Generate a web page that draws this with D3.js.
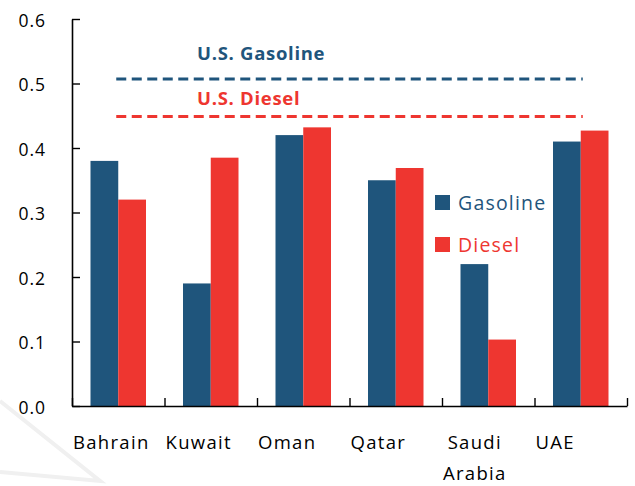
<!DOCTYPE html>
<html>
<head>
<meta charset="utf-8">
<script src="https://cdn.jsdelivr.net/npm/d3@7"></script>
<style>
  body { margin: 0; background: #fff; }
  text { font-family: "Open Sans", "Noto Sans", sans-serif; }
</style>
</head>
<body>
<svg id="chart" width="635" height="486"></svg>
<script>
// Data
const countries = ["Bahrain", "Kuwait", "Oman", "Qatar", "Saudi Arabia", "UAE"];
const series = ["Gasoline", "Diesel"];
const gasoline = [0.38, 0.19, 0.42, 0.35, 0.22, 0.41];
const diesel = [0.32, 0.385, 0.432, 0.369, 0.103, 0.427];
const usRefs = [
  { label: "U.S. Gasoline", value: 0.507, series: "Gasoline", gap: 19 },
  { label: "U.S. Diesel", value: 0.449, series: "Diesel", gap: 11 }
];
const yTicks = [0, 0.1, 0.2, 0.3, 0.4, 0.5, 0.6];

const colors = { Gasoline: "#1f557c", Diesel: "#ee3630" };

const svg = d3.select("#chart");

// faint watermark wedge in the corner
svg.append("path")
  .attr("d", "M0,401 L100,481 L0,472")
  .attr("fill", "none")
  .attr("stroke", "#f0f0f0")
  .attr("stroke-width", 4);

const x0 = d3.scaleBand().domain(countries).range([72, 627]);
const bw = x0.bandwidth();
const x1 = d3.scaleBand().domain(series).range([18.5, bw - 18.5]);
const y = d3.scaleLinear().domain([0, 0.6]).range([406, 19]);

const rows = countries.map((c, i) => ({ country: c, Gasoline: gasoline[i], Diesel: diesel[i] }));

// bars
const groups = svg.append("g").selectAll("g")
  .data(rows)
  .join("g")
  .attr("transform", (d) => `translate(${x0(d.country)},0)`);

groups.selectAll("rect")
  .data((d) => series.map((s) => ({ key: s, value: d[s] })))
  .join("rect")
  .attr("x", (d) => x1(d.key))
  .attr("width", x1.bandwidth())
  .attr("y", (d) => y(d.value))
  .attr("height", (d) => y(0) - y(d.value))
  .attr("fill", (d) => colors[d.key]);

// y axis
const yAxis = svg.append("g")
  .attr("transform", "translate(72,0)")
  .call(d3.axisLeft(y).tickValues(yTicks).tickFormat(d3.format(".1f"))
    .tickSizeInner(-8).tickSizeOuter(0).tickPadding(26));
yAxis.select(".domain").attr("stroke", "#000").attr("stroke-width", 1.6);
yAxis.selectAll(".tick line").attr("stroke", "#000").attr("stroke-width", 1.4);
yAxis.selectAll(".tick text")
  .attr("font-size", 17.5)
  .attr("letter-spacing", 1)
  .attr("dy", "0.4em")
  .attr("fill", "#000")
  .attr("font-family", "Open Sans");

// x axis (ticks on band edges)
const xEdge = d3.scaleLinear().domain([0, countries.length]).range(x0.range());
const xAxis = svg.append("g")
  .attr("transform", `translate(0,${y(0)})`)
  .call(d3.axisBottom(xEdge).tickValues(d3.range(countries.length + 1))
    .tickFormat("").tickSizeInner(-8).tickSizeOuter(0));
xAxis.select(".domain").attr("stroke", "#000").attr("stroke-width", 1.6);
xAxis.selectAll(".tick line").attr("stroke", "#000").attr("stroke-width", 1.4);

// category labels: block starts just right of the tick, lines centered inside
const labels = svg.append("g").selectAll("text")
  .data(countries)
  .join("text")
  .attr("font-size", 18.5)
  .attr("letter-spacing", 1.3)
  .attr("fill", "#000");
labels.each(function (c) {
  const t = d3.select(this);
  const lines = c.split(" ");
  lines.forEach((ln, i) => {
    t.append("tspan").attr("y", 449 + i * 31).text(ln);
  });
  const widths = [];
  t.selectAll("tspan").each(function () { widths.push(this.getComputedTextLength()); });
  const w = d3.max(widths);
  t.selectAll("tspan")
    .attr("text-anchor", "middle")
    .attr("x", x0(c) + 1 + w / 2);
});

// U.S. reference lines
const xStart = x0(countries[0]) + bw / 2 - 2;
const xEnd = x0(countries[countries.length - 1]) + bw / 2 + 2;
svg.append("g").selectAll("line")
  .data(usRefs)
  .join("line")
  .attr("x1", xStart)
  .attr("x2", xEnd)
  .attr("y1", (d) => y(d.value))
  .attr("y2", (d) => y(d.value))
  .attr("stroke", (d) => colors[d.series])
  .attr("stroke-width", 3)
  .attr("stroke-dasharray", "10,5.5");

svg.append("g").selectAll("text")
  .data(usRefs)
  .join("text")
  .attr("x", 197)
  .attr("y", (d) => y(d.value) - d.gap)
  .attr("font-size", 18.5)
  .attr("font-weight", "bold")
  .attr("letter-spacing", 0.7)
  .attr("fill", (d) => colors[d.series])
  .text((d) => d.label);

// legend
const legend = svg.append("g").attr("transform", "translate(435,195)");
const li = legend.selectAll("g")
  .data(series)
  .join("g")
  .attr("transform", (d, i) => `translate(0,${i * 42})`);
li.append("rect")
  .attr("width", 15)
  .attr("height", 15)
  .attr("fill", (d) => colors[d]);
li.append("text")
  .attr("x", 23)
  .attr("y", 15)
  .attr("font-size", 19.5)
  .attr("letter-spacing", 1.2)
  .attr("fill", (d) => colors[d])
  .text((d) => d);
</script>
</body>
</html>
